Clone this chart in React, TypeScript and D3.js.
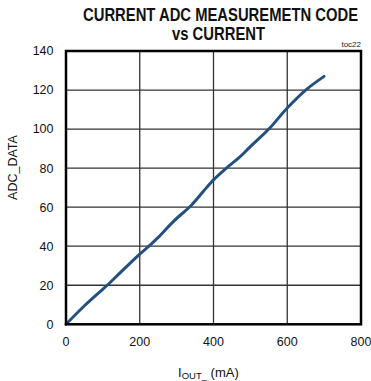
import React from "react";
import * as d3 from "d3";

const currentMA = [0, 50, 100, 112, 150, 200, 225, 250, 293, 340, 372, 400, 435, 470, 500, 550, 600, 650, 700];
const adcData = [0, 9.5, 18, 20, 27, 36, 40, 44.5, 53, 61, 68, 74, 80, 85.5, 91, 100, 110.8, 120, 127];
const xTicks = [0, 200, 400, 600, 800];
const yTicks = [0, 20, 40, 60, 80, 100, 120, 140];

const W = 371;
const H = 381;
const M = { left: 66, right: 361, top: 51, bottom: 324.3 };
const SX = 0.85;

export default function App() {
  const x = d3.scaleLinear().domain([0, 800]).range([M.left, M.right]);
  const y = d3.scaleLinear().domain([0, 140]).range([M.bottom, M.top]);
  const line = d3
    .line<number>()
    .x((_, i) => x(currentMA[i]))
    .y((d) => y(d))
    .curve(d3.curveCatmullRom.alpha(0.5));
  const font = "'Liberation Sans', Arial, sans-serif";
  return (
    <svg
      width={W}
      height={H}
      style={{ position: "absolute", left: 0, top: 0, background: "#fff" }}
      fontFamily={font}
    >
      <g transform={`translate(220.5,20.5) scale(${SX},1)`}>
        <text x={0} y={0} textAnchor="middle" fontWeight="bold" fontSize={17.5} textLength={275 / SX} lengthAdjust="spacingAndGlyphs" fill="#111">
          CURRENT ADC MEASUREMETN CODE
        </text>
      </g>
      <g transform={`translate(218.5,39.5) scale(${SX},1)`}>
        <text x={0} y={0} textAnchor="middle" fontWeight="bold" fontSize={17.5} textLength={93 / SX} lengthAdjust="spacingAndGlyphs" fill="#111">
          vs CURRENT
        </text>
      </g>
      <text x={361} y={46.5} textAnchor="end" fontSize={8} fill="#222">
        toc22
      </text>
      {xTicks.slice(1, -1).map((t) => (
        <line key={"vx" + t} x1={x(t)} x2={x(t)} y1={M.top} y2={M.bottom} stroke="#333" strokeWidth={1.3} />
      ))}
      {yTicks.slice(1, -1).map((t) => (
        <line key={"hy" + t} x1={M.left} x2={M.right} y1={y(t)} y2={y(t)} stroke="#333" strokeWidth={1.3} />
      ))}
      <path d={line(adcData) || ""} fill="none" stroke="#24507f" strokeWidth={3} strokeLinejoin="round" strokeLinecap="round" />
      <rect x={M.left} y={M.top} width={M.right - M.left} height={M.bottom - M.top} fill="none" stroke="#000" strokeWidth={2.5} />
      {yTicks.map((t) => (
        <text key={"yl" + t} x={53.5} y={y(t)} dy="0.35em" textAnchor="end" fontSize={12.5} fill="#111">
          {t}
        </text>
      ))}
      {xTicks.map((t) => (
        <text key={"xl" + t} x={x(t)} y={346} textAnchor="middle" fontSize={12.5} fill="#111">
          {t}
        </text>
      ))}
      <text transform="translate(17,167.5) rotate(-90)" textAnchor="middle" fontSize={12.5} fill="#111">
        ADC_DATA
      </text>
      <text x={178} y={377} fontSize={13} fill="#111">
        I
        <tspan fontSize={9.5} dy={2}>OUT_</tspan>
        <tspan dy={-2}> (mA)</tspan>
      </text>
    </svg>
  );
}
